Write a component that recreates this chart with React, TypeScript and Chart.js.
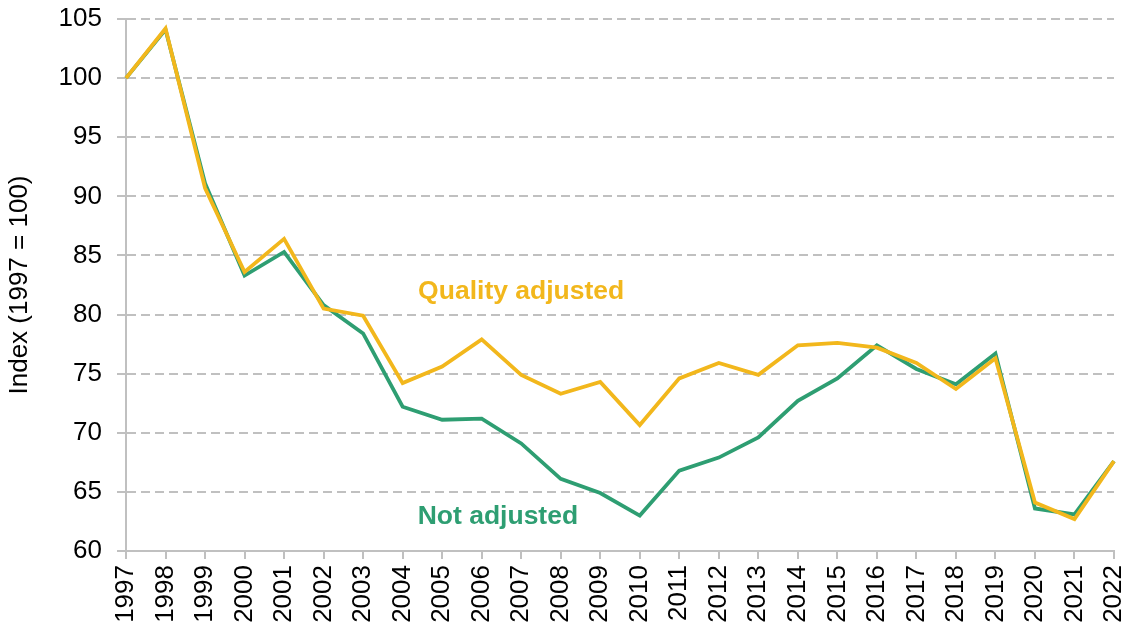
import React, { useEffect, useRef } from "react";
import { Chart, registerables } from "chart.js";

Chart.register(...registerables);

const years = [
  "1997", "1998", "1999", "2000", "2001", "2002", "2003", "2004", "2005", "2006",
  "2007", "2008", "2009", "2010", "2011", "2012", "2013", "2014", "2015", "2016",
  "2017", "2018", "2019", "2020", "2021", "2022",
];

const notAdjusted = [
  100, 104.1, 91.1, 83.3, 85.3, 80.8, 78.4, 72.2, 71.1, 71.2,
  69.1, 66.1, 64.9, 63.0, 66.8, 67.9, 69.6, 72.7, 74.6, 77.4,
  75.4, 74.1, 76.7, 63.6, 63.1, 67.6,
];

const qualityAdjusted = [
  100, 104.2, 90.7, 83.6, 86.4, 80.5, 79.9, 74.2, 75.6, 77.9,
  74.9, 73.3, 74.3, 70.65, 74.6, 75.9, 74.9, 77.4, 77.6, 77.2,
  75.9, 73.7, 76.3, 64.1, 62.7, 67.6,
];

const yTicks = [60, 65, 70, 75, 80, 85, 90, 95, 100, 105];

const GREEN = "#2e9e72";
const YELLOW = "#f2b71c";
const GRID = "#c0c0c0";
const FONT = "'Liberation Sans', Arial, sans-serif";

const seriesLabels = [
  { text: "Quality adjusted", xIndex: 10, y: 81.9, color: YELLOW },
  { text: "Not adjusted", xIndex: 9.41, y: 62.9, color: GREEN },
];

const labelPlugin = {
  id: "seriesLabels",
  afterDatasetsDraw(chart: any) {
    const { ctx, scales } = chart;
    ctx.save();
    ctx.font = `bold 26.5px ${FONT}`;
    ctx.textAlign = "center";
    ctx.textBaseline = "middle";
    for (const l of seriesLabels) {
      const x = scales.x.getPixelForValue(l.xIndex);
      const y = scales.y.getPixelForValue(l.y);
      ctx.fillStyle = l.color;
      ctx.fillText(l.text, x, y);
    }
    ctx.restore();
  },
};

export default function App() {
  const ref = useRef<HTMLCanvasElement | null>(null);

  useEffect(() => {
    if (!ref.current) return;
    const chart = new Chart(ref.current, {
      type: "line",
      data: {
        labels: years,
        datasets: [
          {
            label: "Quality adjusted",
            data: qualityAdjusted,
            borderColor: YELLOW,
            backgroundColor: YELLOW,
            borderWidth: 3.8,
            pointRadius: 0,
            tension: 0,
          },
          {
            label: "Not adjusted",
            data: notAdjusted,
            borderColor: GREEN,
            backgroundColor: GREEN,
            borderWidth: 3.8,
            pointRadius: 0,
            tension: 0,
          },
        ],
      },
      options: {
        animation: false,
        responsive: false,
        maintainAspectRatio: false,
        layout: { padding: { left: 0, top: 19, right: 16, bottom: 0 } },
        plugins: {
          legend: { display: false },
          tooltip: { enabled: false },
        },
        scales: {
          x: {
            type: "category",
            offset: false,
            grid: {
              drawOnChartArea: false,
              drawTicks: true,
              tickLength: 8,
              color: GRID,
              lineWidth: 2,
            },
            border: { color: GRID, width: 2 },
            ticks: {
              color: "#000",
              font: { family: FONT, size: 26 },
              minRotation: 90,
              maxRotation: 90,
              autoSkip: false,
              padding: 6,
            },
            afterFit(scale: any) {
              scale.height = 79;
              scale.paddingLeft = 0;
              scale.paddingRight = 0;
            },
          },
          y: {
            min: 60,
            max: 105,
            afterBuildTicks(scale: any) {
              scale.ticks = yTicks.map((v) => ({ value: v }));
            },
            grid: {
              color: GRID,
              lineWidth: 2,
              tickLength: 9,
              tickBorderDash: [],
              tickColor: GRID,
              tickWidth: 2,
            },
            border: { color: GRID, width: 2, dash: [9, 5] },
            ticks: {
              color: "#000",
              font: { family: FONT, size: 26 },
              padding: 15,
            },
            title: {
              display: true,
              text: "Index (1997 = 100)",
              color: "#000",
              font: { family: FONT, size: 26 },
              padding: { top: 4, bottom: 0 },
            },
            afterFit(scale: any) {
              scale.width = 126;
              scale.paddingTop = 0;
              scale.paddingBottom = 0;
            },
          },
        },
      },
      plugins: [labelPlugin],
    });
    return () => chart.destroy();
  }, []);

  return (
    <div style={{ position: "fixed", left: 0, top: 0, width: 1130, height: 630, background: "#fff" }}>
      <canvas ref={ref} width={1130} height={630} style={{ width: 1130, height: 630 }} />
    </div>
  );
}
